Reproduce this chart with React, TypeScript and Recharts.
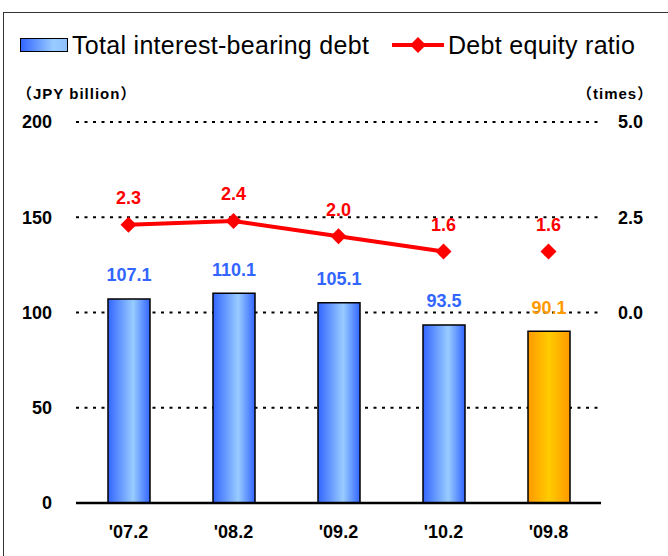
import React from "react";
import { ComposedChart, Bar, Line, XAxis, YAxis, CartesianGrid, Cell } from "recharts";

const periods = ["'07.2", "'08.2", "'09.2", "'10.2", "'09.8"];
const debt = [107.1, 110.1, 105.1, 93.5, 90.1];
// fiscal year-end ratios are joined by a line, the interim one stands alone
const ratioYearEnd = [2.3, 2.4, 2.0, 1.6];
const ratioInterim = 1.6;
const leftTicks = [0, 50, 100, 150, 200];
const rightTicks = [0, 2.5, 5];

const data = periods.map((p, i) => ({
  period: p,
  debt: debt[i],
  ratio: i < ratioYearEnd.length ? ratioYearEnd[i] : null,
  interim: i === periods.length - 1 ? ratioInterim : null,
}));

const BLUE_TEXT = "#3366ff";
const ORANGE_TEXT = "#ff9900";
const RED = "#ff0000";
const TICK_FONT = "'Liberation Sans', Arial, sans-serif";
const TITLE_FONT = "'Liberation Sans', 'Noto Sans CJK JP', sans-serif";

const Diamond = (props: any) => {
  const { cx, cy, index } = props;
  if (cx == null || cy == null) return <g key={`d-${index}`} />;
  const r = 8;
  return (
    <polygon
      key={`d-${index}`}
      points={`${cx},${cy - r} ${cx + r},${cy} ${cx},${cy + r} ${cx - r},${cy}`}
      fill={RED}
    />
  );
};

const barLabel = (props: any) => {
  const { x, y, width, value, index } = props;
  if (value == null) return null;
  const isLast = index === periods.length - 1;
  return (
    <text
      x={x + width / 2}
      y={y - 24}
      dy="0.355em"
      textAnchor="middle"
      fill={isLast ? ORANGE_TEXT : BLUE_TEXT}
      fontFamily={TICK_FONT}
      fontWeight="bold"
      fontSize={18}
    >
      {Number(value).toFixed(1)}
    </text>
  );
};

const lineLabel = (props: any) => {
  const { x, y, value } = props;
  if (value == null) return null;
  return (
    <text
      x={x}
      y={y - 27}
      dy="0.355em"
      textAnchor="middle"
      fill={RED}
      fontFamily={TICK_FONT}
      fontWeight="bold"
      fontSize={18}
    >
      {Number(value).toFixed(1)}
    </text>
  );
};

export default function App() {
  return (
    <div style={{ position: "absolute", left: 0, top: 0, width: 668, height: 556, overflow: "hidden", background: "#fff" }}>
      {/* frame */}
      <div style={{ position: "absolute", left: 3, top: 12, width: 720, height: 620, border: "1.5px solid #333" }} />

      {/* legend */}
      <div style={{ position: "absolute", left: 20, top: 38, width: 46, height: 12, border: "1.5px solid #000", background: "linear-gradient(to right, #3366ff 0%, #99ccff 70%, #8fbfff 100%)" }} />
      <div style={{ position: "absolute", left: 72, top: 29, fontFamily: TICK_FONT, fontSize: 25, letterSpacing: 0.3, lineHeight: "32px", color: "#000" }}>
        Total interest-bearing debt
      </div>
      <svg style={{ position: "absolute", left: 390, top: 35 }} width={56} height={20}>
        <line x1={2} y1={10} x2={54} y2={10} stroke={RED} strokeWidth={4} />
        <polygon points="28,2 36,10 28,18 20,10" fill={RED} />
      </svg>
      <div style={{ position: "absolute", left: 448, top: 29, fontFamily: TICK_FONT, fontSize: 25, letterSpacing: 0.3, lineHeight: "32px", color: "#000" }}>
        Debt equity ratio
      </div>

      {/* axis titles */}
      <div style={{ position: "absolute", left: 17, top: 84, fontFamily: TITLE_FONT, fontWeight: "bold", fontSize: 15, letterSpacing: 1, lineHeight: "20px" }}>
        （JPY billion）
      </div>
      <div style={{ position: "absolute", left: 577, top: 84, fontFamily: TITLE_FONT, fontWeight: "bold", fontSize: 15, letterSpacing: 1, lineHeight: "20px" }}>
        （times）
      </div>

      <div style={{ position: "absolute", left: 0, top: 0 }}>
        <ComposedChart width={668} height={556} data={data} margin={{ top: 122, right: 0, bottom: 0, left: 0 }}>
          <defs>
            <linearGradient id="blueBar" x1="0" y1="0" x2="1" y2="0">
              <stop offset="0%" stopColor="#3366ff" />
              <stop offset="60%" stopColor="#99ccff" />
              <stop offset="100%" stopColor="#3366ff" />
            </linearGradient>
            <linearGradient id="orangeBar" x1="0" y1="0" x2="1" y2="0">
              <stop offset="0%" stopColor="#ff9900" />
              <stop offset="50%" stopColor="#ffcc00" />
              <stop offset="100%" stopColor="#ff9900" />
            </linearGradient>
          </defs>
          <CartesianGrid yAxisId="left" vertical={false} stroke="#000" strokeWidth={2} strokeDasharray="3 5.5" />
          <XAxis
            dataKey="period"
            height={53}
            axisLine={{ stroke: "#000", strokeWidth: 2.5 }}
            tickLine={false}
            tickSize={0}
            tickMargin={22}
            tick={{ fill: "#000", fontFamily: TICK_FONT, fontWeight: "bold", fontSize: 18 }}
          />
          <YAxis
            yAxisId="left"
            width={76}
            domain={[0, 200]}
            ticks={leftTicks}
            axisLine={false}
            tickLine={false}
            tickSize={0}
            tickMargin={24}
            tick={{ fill: "#000", fontFamily: TICK_FONT, fontWeight: "bold", fontSize: 18 }}
          />
          <YAxis
            yAxisId="right"
            orientation="right"
            width={67}
            domain={[-5, 5]}
            ticks={rightTicks}
            tickFormatter={(v: number) => v.toFixed(1)}
            axisLine={false}
            tickLine={false}
            tickSize={0}
            tickMargin={17}
            tick={{ fill: "#000", fontFamily: TICK_FONT, fontWeight: "bold", fontSize: 18 }}
          />
          <Bar yAxisId="left" dataKey="debt" barSize={42} stroke="#000" strokeWidth={1.5} isAnimationActive={false} label={barLabel}>
            {data.map((d, i) => (
              <Cell key={`c-${i}`} fill={i === periods.length - 1 ? "url(#orangeBar)" : "url(#blueBar)"} />
            ))}
          </Bar>
          <Line yAxisId="right" dataKey="ratio" stroke={RED} strokeWidth={4} dot={Diamond} activeDot={false} isAnimationActive={false} label={lineLabel} />
          <Line yAxisId="right" dataKey="interim" stroke="none" dot={Diamond} activeDot={false} isAnimationActive={false} label={lineLabel} />
        </ComposedChart>
      </div>
    </div>
  );
}
